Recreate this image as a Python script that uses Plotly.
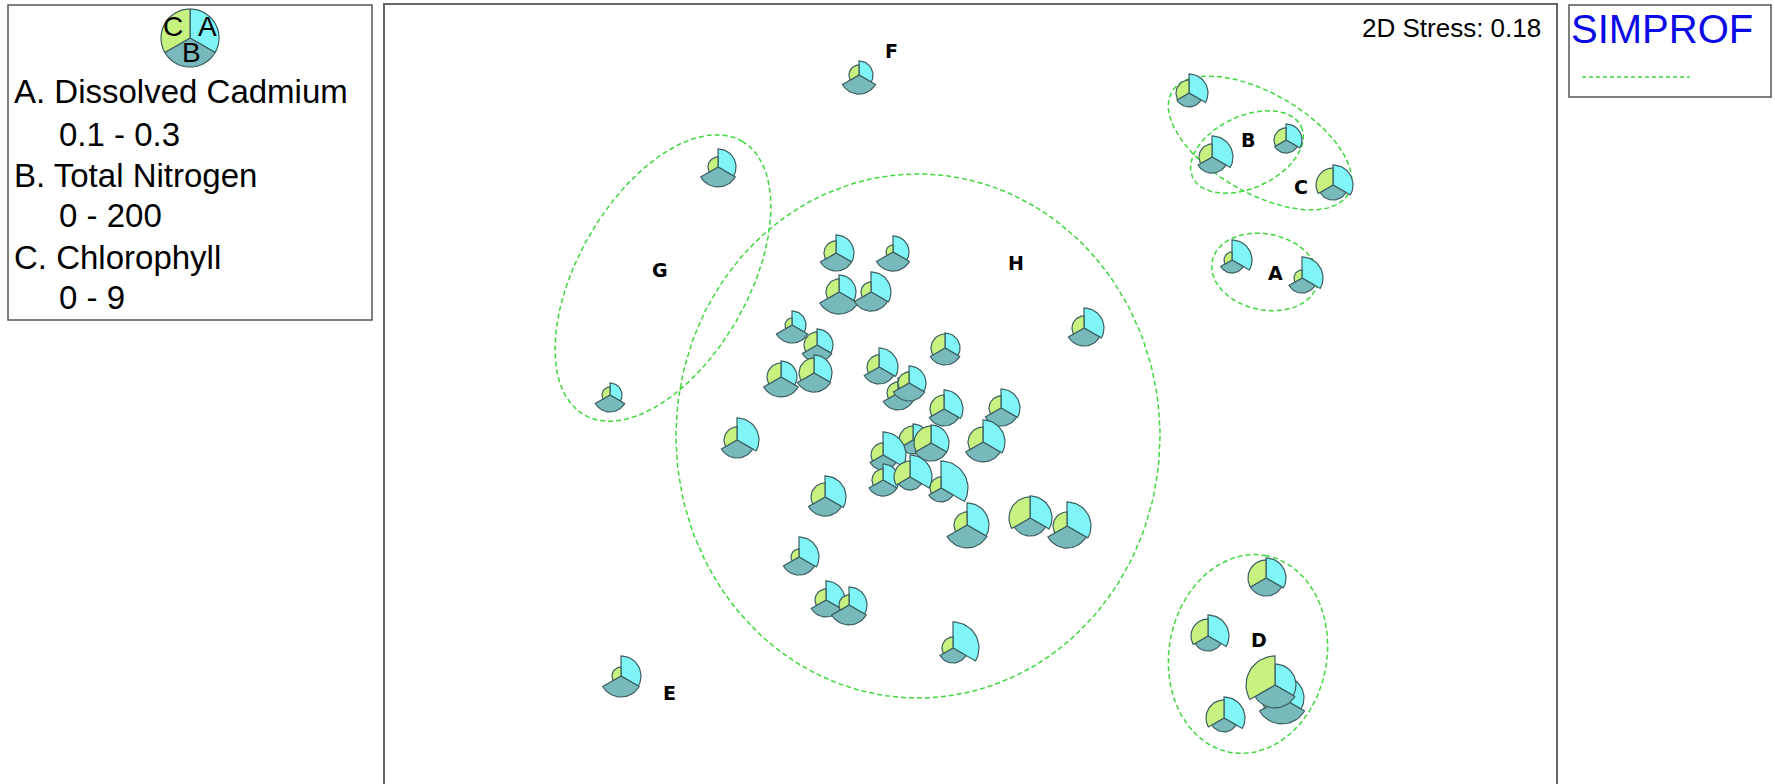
import numpy as np
import plotly.graph_objects as go

W, H = 1775, 784

# ---------------- data (plot units) ----------------
mds_x = [859, 718, 610, 621, 1189, 1212, 1286, 1333, 1232, 1302,
         1266, 1208, 1282, 1275, 1224,
         836, 893, 839, 871, 792, 817, 781, 814, 879, 945,
         898, 909, 944, 1084, 1001, 737, 913, 883, 883, 910,
         931, 941, 983, 825, 967, 1030, 1067, 799, 826, 849, 953]
mds_y = [75, 167, 395, 676, 93, 157, 140, 185, 260, 278,
         578, 636, 698, 685, 718,
         253, 252, 292, 292, 325, 345, 377, 373, 367, 348,
         393, 383, 409, 328, 408, 440, 440, 455, 480, 477,
         443, 488, 442, 497, 525, 518, 526, 557, 600, 605, 648]
cadmium = [0.14, 0.18, 0.12, 0.20, 0.19, 0.21, 0.16, 0.20, 0.20, 0.21,
           0.20, 0.21, 0.22, 0.21, 0.21,
           0.18, 0.16, 0.17, 0.20, 0.14, 0.16, 0.16, 0.18, 0.19, 0.15,
           0.15, 0.17, 0.19, 0.20, 0.19, 0.22, 0.16, 0.23, 0.16, 0.22,
           0.18, 0.27, 0.22, 0.21, 0.22, 0.22, 0.24, 0.20, 0.19, 0.18, 0.26]
nitrogen = [127, 133, 113, 140, 93, 107, 87, 100, 87, 100,
            120, 100, 173, 153, 93,
            120, 127, 147, 127, 120, 113, 133, 127, 113, 113,
            113, 120, 113, 120, 120, 120, 93, 100, 107, 87,
            120, 93, 133, 127, 153, 120, 147, 120, 113, 133, 100]
chlorophyll = [3.0, 3.0, 2.4, 2.7, 3.9, 3.9, 3.6, 5.1, 2.4, 2.4,
               5.4, 5.1, 6.0, 8.7, 5.4,
               3.6, 2.1, 3.9, 3.0, 2.1, 3.9, 4.2, 4.5, 3.6, 4.2,
               3.3, 3.3, 4.2, 3.6, 3.6, 3.9, 4.2, 3.6, 3.3, 4.8,
               5.1, 3.3, 4.5, 4.2, 3.9, 6.3, 4.2, 2.4, 3.3, 3.0, 3.3]

var_max = {"A": 0.3, "B": 200.0, "C": 9.0}

# SIMPROF groups
group_names = ["A", "B", "C", "D", "E", "F", "G", "H"]
group_lx = [1275, 1248, 1301, 1259, 669, 891, 660, 1016]
group_ly = [273, 140, 187, 640, 693, 51, 270, 263]

# SIMPROF ellipses (centre, semi-axes, rotation in degrees)
ell_cx = [1265, 1247, 1260, 1248, 663, 918]
ell_cy = [272, 152, 143, 654, 278, 436]
ell_a = [54, 60, 102, 100, 158, 242]
ell_b = [38, 36, 50, 79, 85, 262]
ell_rot = [12, -25, 30, -80, -60, 0]

legend_lines = ["A. Dissolved Cadmium", "0.1 - 0.3", "B. Total Nitrogen",
                "0 - 200", "C. Chlorophyll", "0 - 9"]

COL_A, COL_B, COL_C = "#80F5F7", "#78B9BC", "#C8F280"
EDGE = "#3B5E60"
GREEN = "#3FD83F"
RMAX = 30.0

fig = go.Figure()


def wedge(cx, cy, r, t1, t2, n=24):
    t = np.radians(np.linspace(t1, t2, n))
    xs = np.concatenate([[cx], cx + r * np.sin(t), [cx]])
    ys = np.concatenate([[cy], cy - r * np.cos(t), [cy]])
    return xs, ys


# ellipses first (beneath glyphs)
for cx, cy, a, b, rot in zip(ell_cx, ell_cy, ell_a, ell_b, ell_rot):
    tau = np.linspace(0, 2 * np.pi, 200)
    th = np.radians(rot)
    ex = cx + a * np.cos(tau) * np.cos(th) - b * np.sin(tau) * np.sin(th)
    ey = cy + a * np.cos(tau) * np.sin(th) + b * np.sin(tau) * np.cos(th)
    fig.add_trace(go.Scatter(x=ex, y=ey, mode="lines",
                             line=dict(color=GREEN, width=1.5, dash="5px,3px"),
                             hoverinfo="skip", showlegend=False))

# segmented bubbles
for i in range(len(mds_x)):
    cx, cy = mds_x[i], mds_y[i]
    for val, key, col, t1, t2 in [(cadmium[i], "A", COL_A, 0, 120),
                                  (nitrogen[i], "B", COL_B, 120, 240),
                                  (chlorophyll[i], "C", COL_C, 240, 360)]:
        r = RMAX * val / var_max[key]
        xs, ys = wedge(cx, cy, r, t1, t2)
        fig.add_trace(go.Scatter(x=xs, y=ys, mode="lines", fill="toself",
                                 fillcolor=col, line=dict(color=EDGE, width=1.2),
                                 hoverinfo="skip", showlegend=False))

annotations = []
for name, lx, ly in zip(group_names, group_lx, group_ly):
    annotations.append(dict(x=lx, y=ly, xref="x", yref="y", text=f"<b>{name}</b>",
                            showarrow=False, xanchor="center", yanchor="middle",
                            font=dict(family="DejaVu Sans", size=19, color="black")))


def px(x):
    return x / W


def py(y):
    return 1 - y / H


# legend text
leg_y = [91, 134, 175, 215, 257, 298]
leg_x = [12, 57, 12, 57, 12, 57]
for t, lx, ly in zip(legend_lines, leg_x, leg_y):
    annotations.append(dict(x=px(lx), y=py(ly), xref="paper", yref="paper", text=t,
                            showarrow=False, xanchor="left", yanchor="middle",
                            font=dict(family="Liberation Sans, Arial", size=33, color="black")))
for t, lx, ly in [("C", 173, 27), ("A", 207, 27), ("B", 191, 52)]:
    annotations.append(dict(x=px(lx), y=py(ly), xref="paper", yref="paper", text=t,
                            showarrow=False, xanchor="center", yanchor="middle",
                            font=dict(family="Liberation Sans, Arial", size=28, color="black")))

annotations.append(dict(x=px(1543), y=py(28), xref="paper", yref="paper",
                        text="2D Stress: 0.18", showarrow=False, xanchor="right",
                        yanchor="middle",
                        font=dict(family="Liberation Sans, Arial", size=26, color="black")))
annotations.append(dict(x=px(1569), y=py(29), xref="paper", yref="paper",
                        text="SIMPROF", showarrow=False, xanchor="left", yanchor="middle",
                        font=dict(family="Liberation Sans, Arial", size=40, color="#0A0AE6")))

shapes = []
# boxes
shapes.append(dict(type="rect", xref="paper", yref="paper", x0=px(384), x1=px(1557),
                   y0=py(800), y1=py(4), line=dict(color="#666666", width=2)))
shapes.append(dict(type="rect", xref="paper", yref="paper", x0=px(8), x1=px(372),
                   y0=py(320), y1=py(5), line=dict(color="#555555", width=1.5)))
shapes.append(dict(type="rect", xref="paper", yref="paper", x0=px(1569), x1=px(1771),
                   y0=py(97), y1=py(5), line=dict(color="#555555", width=1.5)))
shapes.append(dict(type="line", xref="paper", yref="paper", x0=px(1582), x1=px(1690),
                   y0=py(77), y1=py(77), line=dict(color=GREEN, width=1.5, dash="4px,3px")))

# legend key glyph (equal segments)
for col, t1, t2 in [(COL_A, 0, 120), (COL_B, 120, 240), (COL_C, 240, 360)]:
    xs, ys = wedge(190, 38, 29, t1, t2, n=30)
    path = "M " + " L ".join(f"{px(a):.5f},{py(b):.5f}" for a, b in zip(xs, ys)) + " Z"
    shapes.append(dict(type="path", xref="paper", yref="paper", path=path,
                       fillcolor=col, line=dict(color=EDGE, width=1.2), layer="below"))

fig.update_layout(
    width=W, height=H,
    margin=dict(l=0, r=0, t=0, b=0),
    paper_bgcolor="white", plot_bgcolor="white",
    showlegend=False,
    xaxis=dict(domain=[384 / W, 1557 / W], range=[384, 1557], visible=False,
               fixedrange=True),
    yaxis=dict(domain=[0, 780 / H], range=[784, 4], visible=False, fixedrange=True),
    annotations=annotations,
    shapes=shapes,
)

fig.write_html("out.html", config={"displayModeBar": False},
               post_script="document.body.style.margin='0px';document.body.style.overflow='hidden';")
